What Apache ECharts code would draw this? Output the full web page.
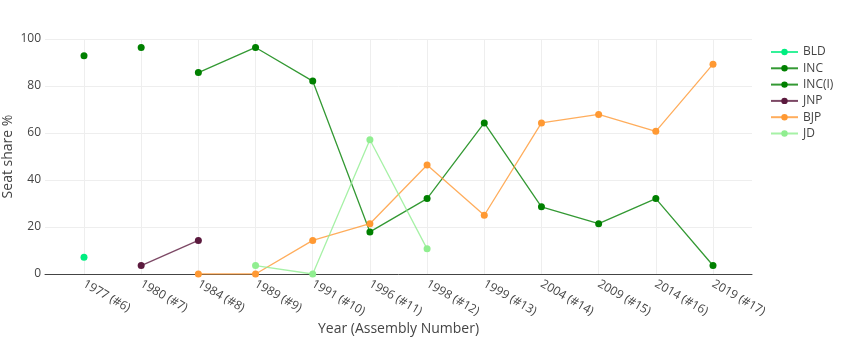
<!DOCTYPE html>
<html>
<head>
<meta charset="utf-8">
<script src="https://cdn.jsdelivr.net/npm/echarts@6/dist/echarts.min.js"></script>
<style>
html,body{margin:0;padding:0;background:#fff;}
#chart{width:850px;height:337px;}
</style>
</head>
<body>
<div id="chart"></div>
<script>
const categories = ['1977 (#6)','1980 (#7)','1984 (#8)','1989 (#9)','1991 (#10)','1996 (#11)','1998 (#12)','1999 (#13)','2004 (#14)','2009 (#15)','2014 (#16)','2019 (#17)'];
const yTicks = [0, 20, 40, 60, 80, 100];
const bld   = [7.1, null, null, null, null, null, null, null, null, null, null, null];
const inc   = [92.9, null, 85.7, 96.4, 82.1, 17.9, 32.1, 64.3, 28.6, 21.4, 32.1, 3.6];
const incI  = [null, 96.4, null, null, null, null, null, null, null, null, null, null];
const jnp   = [null, 3.6, 14.3, null, null, null, null, null, null, null, null, null];
const bjp   = [null, null, 0, 0, 14.3, 21.4, 46.4, 25.0, 64.3, 67.9, 60.7, 89.3];
const jd    = [null, null, null, 3.6, 0, 57.1, 10.7, null, null, null, null, null];

const seriesDefs = [
  {name:'BLD', data:bld, color:'#00ee80'},
  {name:'INC', data:inc, color:'#008000'},
  {name:'INC(I)', data:incI, color:'#008000'},
  {name:'JNP', data:jnp, color:'#5b1a3e'},
  {name:'BJP', data:bjp, color:'#ff9933'},
  {name:'JD', data:jd, color:'#90ee90'}
];

const font = '"Open Sans", "DejaVu Sans", sans-serif';
const chart = echarts.init(document.getElementById('chart'), null, {renderer:'canvas'});
chart.setOption({
  animation:false,
  backgroundColor:'#fff',
  textStyle:{fontFamily:font},
  grid:[
    {left:45, right:98, top:39, bottom:63, containLabel:false, outerBoundsMode:'none'},
    {left:84, right:137, top:39, bottom:63, containLabel:false, outerBoundsMode:'none'}
  ],
  xAxis:[
    {gridIndex:0, type:'value', min:0, max:1,
      axisLine:{show:true, lineStyle:{color:'#444', width:1}},
      axisTick:{show:false}, axisLabel:{show:false}, splitLine:{show:false}},
    {gridIndex:1, type:'category', data:categories, boundaryGap:false,
      axisLine:{show:false}, axisTick:{show:false},
      axisLabel:{rotate:-30, color:'#444', fontSize:12, fontFamily:font, margin:9, interval:0},
      splitLine:{show:true, lineStyle:{color:'#eee', width:1}},
      name:'Year (Assembly Number)', nameLocation:'middle', nameGap:48, nameMoveOverlap:false,
      nameTextStyle:{color:'#444', fontSize:14, fontFamily:font}}
  ],
  yAxis:[
    {gridIndex:0, type:'value', min:yTicks[0], max:yTicks[yTicks.length-1], interval:20,
      axisLine:{show:false}, axisTick:{show:false},
      axisLabel:{color:'#444', fontSize:12, fontFamily:font, margin:4},
      splitLine:{show:true, lineStyle:{color:'#eee', width:1}},
      name:'Seat share %', nameLocation:'middle', nameGap:30, nameMoveOverlap:false,
      nameTextStyle:{color:'#444', fontSize:14, fontFamily:font}},
    {gridIndex:1, type:'value', min:yTicks[0], max:yTicks[yTicks.length-1], interval:20,
      show:false}
  ],
  legend:{
    orient:'vertical', left:770, top:46, padding:0, itemWidth:27, itemHeight:8, itemGap:4.3,
    textStyle:{color:'#444', fontSize:12, fontFamily:font},
    data:seriesDefs.map(s=>s.name)
  },
  series:seriesDefs.map((s,i)=>({
    name:s.name, type:'line', xAxisIndex:1, yAxisIndex:1, data:s.data,
    symbol:'circle', symbolSize:7, showSymbol:true, connectNulls:false,
    color:s.color,
    itemStyle:{color:s.color},
    lineStyle:{color:s.color, width:1.3, opacity:0.8},
    emphasis:{disabled:true},
    z:2+i
  }))
});
</script>
</body>
</html>
